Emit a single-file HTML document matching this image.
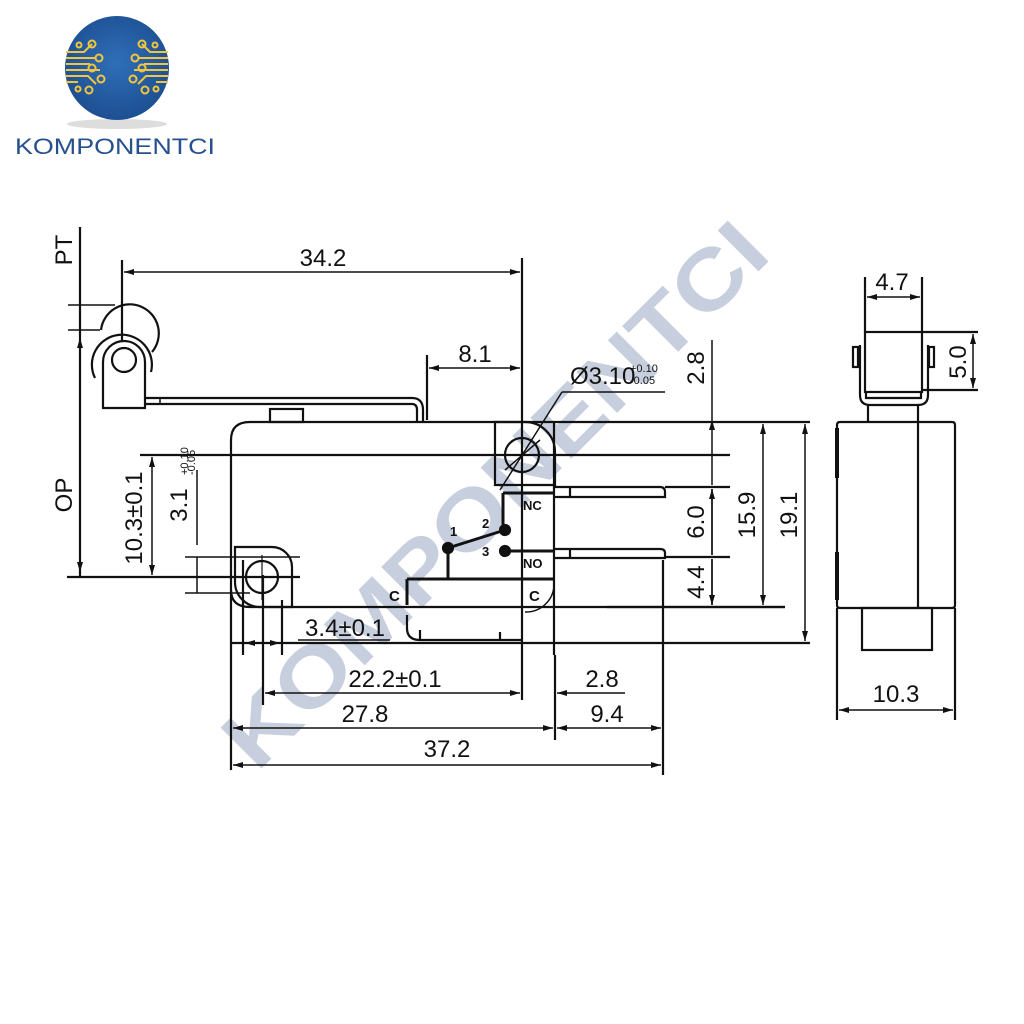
<!DOCTYPE html>
<html><head><meta charset="utf-8"><style>
html,body{margin:0;padding:0;background:#fff;width:1024px;height:1024px;overflow:hidden}
svg{display:block}
.t{font-family:"Liberation Sans Narrow","Liberation Sans",sans-serif;font-size:24px;fill:#111}
.s{font-family:"Liberation Sans",sans-serif;font-weight:bold;font-size:13px;fill:#111}
</style></head><body>
<svg width="1024" height="1024" viewBox="0 0 1024 1024" xmlns="http://www.w3.org/2000/svg">
<defs>
<marker id="a" viewBox="0 0 10 6" refX="10" refY="3" markerWidth="10" markerHeight="6" orient="auto-start-reverse" markerUnits="userSpaceOnUse"><path d="M0,0L10,3L0,6z" fill="#111"/></marker>
<radialGradient id="g" cx="50%" cy="45%" r="55%"><stop offset="0" stop-color="#2f6fb8"/><stop offset="1" stop-color="#1d4f92"/></radialGradient>
</defs>
<!-- logo -->
<ellipse cx="117" cy="124" rx="50" ry="5" fill="#ddd"/>
<circle cx="117" cy="68" r="52" fill="url(#g)"/>
<g stroke="#f2c53d" stroke-width="2" fill="none">
<path d="M66,52h18l8,-8M66,58h30M66,64h24M66,70h34M66,76h22l8,8M66,82h12"/>
<path d="M168,52h-18l-8,-8M168,58h-30M168,64h-24M168,70h-34M168,76h-22l-8,8M168,82h-12"/>
<circle cx="92" cy="44" r="3.5"/><circle cx="99" cy="58" r="3.5"/><circle cx="92" cy="68" r="3.5"/><circle cx="101" cy="79" r="3.5"/><circle cx="89" cy="90" r="3.5"/><circle cx="79" cy="45" r="2.5"/><circle cx="78" cy="89" r="2.5"/>
<circle cx="142" cy="44" r="3.5"/><circle cx="135" cy="58" r="3.5"/><circle cx="142" cy="68" r="3.5"/><circle cx="133" cy="79" r="3.5"/><circle cx="145" cy="90" r="3.5"/><circle cx="155" cy="45" r="2.5"/><circle cx="156" cy="89" r="2.5"/>
</g>
<text x="15" y="154" font-family="Liberation Sans,sans-serif" font-size="22" fill="#27508f" textLength="200" lengthAdjust="spacingAndGlyphs">KOMPONENTCI</text>

<!-- watermark -->
<text transform="translate(515,515) rotate(-45)" text-anchor="middle" font-family="Liberation Sans,sans-serif" font-weight="bold" font-size="84" fill="#b4bed2" fill-opacity="0.75" textLength="730" lengthAdjust="spacingAndGlyphs">KOMPONENTCI</text>

<g stroke="#111" stroke-width="2.2" fill="none">
<!-- PT/OP -->
<path d="M80,227V577"/>
<path d="M68,305H115M68,330H100" stroke-width="1.6"/>
<path d="M80,338V572" marker-start="url(#a)" marker-end="url(#a)" stroke-width="1.5"/>
<path d="M67,577H300" />
<!-- 34.2 -->
<path d="M122,260V355M522,258V700"/>
<path d="M124,272H520" stroke-width="1.5" marker-start="url(#a)" marker-end="url(#a)"/>
<!-- roller -->
<path d="M101,330A29,29 0 1,1 152,352"/>
<path d="M95,378A30,30 0 1,1 151,372"/>
<path d="M103,408V362A21,21 0 0,1 145,362V408Z" fill="#fff"/>
<circle cx="124" cy="360" r="12"/>
<!-- lever -->
<path d="M145,398H412Q423,398 423,410V422M145,404H412Q417,404 417,410V422"/>
<path d="M160,398V404" stroke-width="1.5"/>
<rect x="270" y="409" width="33" height="13"/>
<!-- 8.1 -->
<path d="M427,355V420"/>
<path d="M429,368H520" stroke-width="1.5" marker-start="url(#a)" marker-end="url(#a)"/>
<!-- body -->
<path d="M231,770V440Q231,422 250,422H810"/>
<path d="M231,590Q231,607 250,607H785"/>
<path d="M140,455H730"/>
<path d="M554,422V655M555,655V740M663,560V775M231,643H810"/>
<path d="M407,615V628Q407,640 420,640H522M420,630V640M500,632V640"/>
<!-- holes -->
<path d="M495,422H525A30,30 0 0,1 555,452V485H495Z"/>
<circle cx="522" cy="455" r="17"/>
<path d="M505,470L540,440" stroke-width="1.5"/>
<path d="M235,547H272A20,20 0 0,1 292,567V607H260A25,25 0 0,1 235,582Z"/>
<circle cx="262" cy="577" r="16"/>
<path d="M262,555V600M240,577H285" stroke-width="1.2"/>
<!-- diameter leader -->
<path d="M562,392H665M562,392L500,490" stroke-width="1.5"/>
<!-- 10.3, 3.1 -->
<path d="M152,457V575" stroke-width="1.5" marker-start="url(#a)" marker-end="url(#a)"/>
<path d="M197,470V545M197,557V593" stroke-width="1.5"/>
<path d="M185,557H300M185,593H250" stroke-width="1.5"/>
<!-- terminals -->
<path d="M555,487H660Q665,487 665,492V497H555M570,487V497"/>
<path d="M555,549H660Q665,549 665,553V558H555M570,549V558"/>
<path d="M665,487H730M665,557H730M607,607H785"/>
<!-- schematic -->
<path d="M503,493H555M503,493V530M448,548L505,530M448,548V579M407,579H555M407,579V605M505,551H555" stroke-width="3"/>
<circle cx="505" cy="530" r="5" fill="#111"/><circle cx="448" cy="548" r="5" fill="#111"/><circle cx="505" cy="551" r="5" fill="#111"/>
<path d="M525,612A28,28 0 0,0 554,585" stroke-width="1.5"/>
<!-- right dims -->
<path d="M712,340V420M712,457V485M712,489V555M712,559V605" stroke-width="1.5" marker-end="url(#a)"/>
<path d="M712,420V457" stroke-width="1.5" marker-start="url(#a)"/>
<path d="M712,489V555M712,559V605" stroke-width="1.5" marker-start="url(#a)"/>
<path d="M763,424V605" stroke-width="1.5" marker-start="url(#a)" marker-end="url(#a)"/>
<path d="M805,424V641" stroke-width="1.5" marker-start="url(#a)" marker-end="url(#a)"/>
<!-- bottom dims -->
<path d="M243,560V655M282,600V655M263,575V705"/>
<path d="M245,643H280" stroke-width="1.5" marker-start="url(#a)" marker-end="url(#a)"/>
<path d="M298,640H390" stroke-width="1.5"/>
<path d="M265,693H520" stroke-width="1.5" marker-start="url(#a)" marker-end="url(#a)"/>
<path d="M625,693H557" stroke-width="1.5" marker-end="url(#a)"/>
<path d="M233,728H553" stroke-width="1.5" marker-start="url(#a)" marker-end="url(#a)"/>
<path d="M557,728H661" stroke-width="1.5" marker-start="url(#a)" marker-end="url(#a)"/>
<path d="M233,765H661" stroke-width="1.5" marker-start="url(#a)" marker-end="url(#a)"/>
<!-- side view -->
<path d="M865,277V332M922,277V332"/>
<path d="M867,297H920" stroke-width="1.5" marker-start="url(#a)" marker-end="url(#a)"/>
<rect x="865" y="332" width="57" height="60"/>
<path d="M860,345V395Q860,405 870,405H918Q928,405 928,395V345M866,392V398H921V392"/>
<rect x="853" y="347" width="5" height="20"/><rect x="929" y="347" width="5" height="20"/>
<path d="M922,332H978M922,390H978"/>
<path d="M973,334V388" stroke-width="1.5" marker-start="url(#a)" marker-end="url(#a)"/>
<path d="M868,405V422M918,405V422"/>
<path d="M840,422H952Q955,422 955,425V605Q955,608 952,608H840Q837,608 837,605V425Q837,422 840,422Z"/>
<path d="M918,422V608"/>
<path d="M837,428V478M837,552V600" stroke-width="4"/>
<rect x="862" y="608" width="70" height="42"/>
<path d="M837,608V720M955,608V720"/>
<path d="M839,710H953" stroke-width="1.5" marker-start="url(#a)" marker-end="url(#a)"/>
</g>

<!-- labels -->
<g class="t">
<text x="323" y="266" text-anchor="middle">34.2</text>
<text x="475" y="362" text-anchor="middle">8.1</text>
<text transform="translate(72,250) rotate(-90)" text-anchor="middle">PT</text>
<text transform="translate(72,495) rotate(-90)" text-anchor="middle">OP</text>
<text transform="translate(142,518) rotate(-90)" text-anchor="middle">10.3±0.1</text>
<text transform="translate(187,505) rotate(-90)" text-anchor="middle">3.1</text>
<text transform="translate(188,475) rotate(-90)" font-size="11">+0.10</text>
<text transform="translate(195,475) rotate(-90)" font-size="11">-0.05</text>
<text x="570" y="384">Ø3.10</text>
<text x="630" y="372" font-size="11">+0.10</text>
<text x="630" y="384" font-size="11">-0.05</text>
<text transform="translate(704,368) rotate(-90)" text-anchor="middle">2.8</text>
<text transform="translate(704,522) rotate(-90)" text-anchor="middle">6.0</text>
<text transform="translate(704,582) rotate(-90)" text-anchor="middle">4.4</text>
<text transform="translate(755,515) rotate(-90)" text-anchor="middle">15.9</text>
<text transform="translate(797,515) rotate(-90)" text-anchor="middle">19.1</text>
<text x="345" y="636" text-anchor="middle">3.4±0.1</text>
<text x="395" y="687" text-anchor="middle">22.2±0.1</text>
<text x="602" y="687" text-anchor="middle">2.8</text>
<text x="365" y="722" text-anchor="middle">27.8</text>
<text x="607" y="722" text-anchor="middle">9.4</text>
<text x="447" y="757" text-anchor="middle">37.2</text>
<text x="892" y="290" text-anchor="middle">4.7</text>
<text transform="translate(966,362) rotate(-90)" text-anchor="middle">5.0</text>
<text x="896" y="702" text-anchor="middle">10.3</text>
</g>
<g class="s">
<text x="523" y="510">NC</text>
<text x="523" y="568">NO</text>
<text x="529" y="601" font-size="15">C</text>
<text x="389" y="601" font-size="15">C</text>
<text x="450" y="536">1</text>
<text x="482" y="528">2</text>
<text x="482" y="556">3</text>
</g>
</svg>
</body></html>
